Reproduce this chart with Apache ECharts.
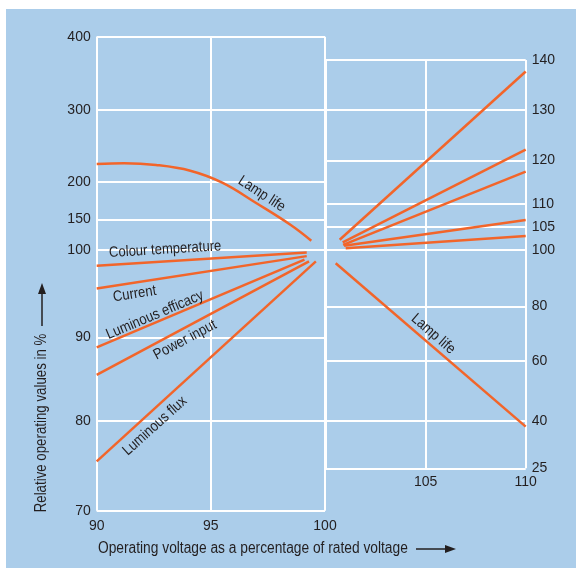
<!DOCTYPE html>
<html><head><meta charset="utf-8">
<script src="https://cdn.jsdelivr.net/npm/echarts@6/dist/echarts.min.js"></script>
<style>
html,body{margin:0;padding:0;background:#fff;}
#bg{position:absolute;left:6px;top:9px;width:570px;height:559px;background:#abcdea;}
#chart{position:absolute;left:0;top:0;width:576px;height:568px;}
</style></head><body>
<div id="bg"></div><div id="chart"></div>
<script>
// ---- data ----
const xTicksLeft = [90, 95, 100];
const xTicksRight = [105, 110];
const leftTickValues = [70, 80, 90, 100, 150, 200, 300, 400];
const rightTickValues = [25, 40, 60, 80, 100, 105, 110, 120, 130, 140];

// below rated voltage (voltage %, relative value %)
const colourTempLow = [[90, 98.2], [99.2, 99.7]];
const currentLow = [[90, 95.6], [99.2, 99.3]];
const efficacyLow = [[90, 88.8], [99.1, 98.9]];
const powerLow = [[90, 85.5], [99.3, 98.7]];
const fluxLow = [[90, 75.5], [99.6, 98.7]];
const lampLifeLow = [[90, 224.7], [91.2, 225.7], [92.6, 223.3], [94.1, 215.3], [95.5, 198.7], [97.0, 171.3], [98.5, 140.7], [99.4, 115.1]];

// above rated voltage
const fluxHigh = [[100.7, 102.2], [110, 137.7]];
const powerHigh = [[100.85, 101.65], [110, 122.1]];
const efficacyHigh = [[100.87, 101.1], [110, 117.4]];
const currentHigh = [[100.92, 100.9], [110, 106.5]];
const colourTempHigh = [[101.0, 100.4], [110, 103.0]];
const lampLifeHigh = [[100.5, 95.3], [110, 38.2]];

// curve labels (anchor in data coordinates, text angle)
const labelsLow = [
  {name: 'Colour temperature', at: [93.0, 100.8], angle: 3.5},
  {name: 'Current', at: [91.66, 94.96], angle: 9},
  {name: 'Luminous efficacy', at: [92.55, 92.55], angle: 23},
  {name: 'Power input', at: [93.87, 89.68], angle: 28},
  {name: 'Luminous flux', at: [92.55, 79.44], angle: 42},
  {name: 'Lamp life', at: [97.23, 183.6], angle: -33}
];
const labelsHigh = [
  {name: 'Lamp life', at: [105.37, 69.9], angle: -41}
];

// ---- non-linear value scales (relative spacing of the ticks on each axis) ----
const leftScalePos = [0, 89.7, 173.4, 260.7, 291.4, 329, 400.7, 474];
const rightScalePos = [0, 47.3, 107.3, 162, 218.3, 241.6, 264.3, 308, 358.3, 408.3];

function toPos(v, vals, pos) {
  for (let i = 0; i < vals.length - 1; i++) {
    if (v <= vals[i + 1] || i === vals.length - 2) {
      const t = (v - vals[i]) / (vals[i + 1] - vals[i]);
      return pos[i] + t * (pos[i + 1] - pos[i]);
    }
  }
}
function fromPos(p, vals, pos) {
  let best = 0;
  for (let i = 0; i < pos.length; i++) if (Math.abs(pos[i] - p) < Math.abs(pos[best] - p)) best = i;
  return String(vals[best]);
}
const toL = v => toPos(v, leftTickValues, leftScalePos);
const toR = v => toPos(v, rightTickValues, rightScalePos);
const L = d => d.map(([x, y]) => [x, toL(y)]);
const R = d => d.map(([x, y]) => [x, toR(y)]);

const ORANGE = '#f2652a';
const TXT = '#231f20';
const FONT = '"Liberation Sans", Arial, sans-serif';
const grid = {color: '#ffffff', width: 2};
const SQ = 0.87; // horizontal squeeze to mimic condensed type

function lineSeries(data, xi, smooth) {
  return {type: 'line', xAxisIndex: xi, yAxisIndex: xi, data: data, symbol: 'none', smooth: smooth ? 0.4 : false,
    lineStyle: {color: ORANGE, width: 2.5}, silent: true, z: 3};
}
const axisLabelStyle = {color: TXT, fontSize: 14, fontFamily: FONT};

const chart = echarts.init(document.getElementById('chart'), null, {renderer: 'canvas'});
chart.setOption({
  animation: false,
  backgroundColor: 'transparent',
  grid: [
    {left: 96.7, top: 36.7, width: 228.3, height: 474, containLabel: false, outerBoundsMode: 'none'},
    {left: 325.7, top: 60, width: 200, height: 408.3, containLabel: false, outerBoundsMode: 'none'}
  ],
  xAxis: [
    {gridIndex: 0, type: 'value', min: 90, max: 100, interval: 5,
      axisLine: {show: false}, axisTick: {show: false},
      axisLabel: Object.assign({margin: 8, customValues: xTicksLeft}, axisLabelStyle),
      splitLine: {show: true, lineStyle: grid}},
    {gridIndex: 1, type: 'value', min: 100, max: 110, interval: 5,
      axisLine: {show: false}, axisTick: {show: false},
      axisLabel: Object.assign({margin: 7, customValues: xTicksRight}, axisLabelStyle),
      splitLine: {show: true, lineStyle: grid}}
  ],
  yAxis: [
    {gridIndex: 0, type: 'value', min: 0, max: leftScalePos[leftScalePos.length - 1],
      axisLine: {show: false}, axisTick: {show: false, customValues: leftScalePos},
      axisLabel: Object.assign({customValues: leftScalePos, margin: 6,
        formatter: v => fromPos(v, leftTickValues, leftScalePos)}, axisLabelStyle),
      splitLine: {show: true, lineStyle: grid}},
    {gridIndex: 1, type: 'value', position: 'right', min: 0, max: rightScalePos[rightScalePos.length - 1],
      axisLine: {show: false}, axisTick: {show: false, customValues: rightScalePos},
      axisLabel: Object.assign({customValues: rightScalePos, margin: 6,
        formatter: v => fromPos(v, rightTickValues, rightScalePos)}, axisLabelStyle),
      splitLine: {show: true, lineStyle: grid}}
  ],
  series: [
    lineSeries(L(colourTempLow), 0), lineSeries(L(currentLow), 0), lineSeries(L(efficacyLow), 0),
    lineSeries(L(powerLow), 0), lineSeries(L(fluxLow), 0), lineSeries(L(lampLifeLow), 0, true),
    lineSeries(R(fluxHigh), 1), lineSeries(R(powerHigh), 1), lineSeries(R(efficacyHigh), 1),
    lineSeries(R(currentHigh), 1), lineSeries(R(colourTempHigh), 1), lineSeries(R(lampLifeHigh), 1)
  ]
});

// curve labels placed through the axes' own conversion
function curveLabel(l, gi, conv) {
  const p = chart.convertToPixel({xAxisIndex: gi, yAxisIndex: gi}, [l.at[0], conv(l.at[1])]);
  return {type: 'text', x: p[0], y: p[1], rotation: l.angle * Math.PI / 180, scaleX: SQ, z: 10,
    style: {text: l.name, fill: TXT, font: '15px ' + FONT, align: 'center', verticalAlign: 'middle'}};
}
const graphics = [
  {type: 'text', x: 42, y: 423, rotation: Math.PI / 2, scaleX: 0.83,
    style: {text: 'Relative operating values in %', fill: TXT, font: '16px ' + FONT, align: 'center', verticalAlign: 'middle'}},
  {type: 'line', shape: {x1: 42, y1: 326, x2: 42, y2: 292}, style: {stroke: TXT, lineWidth: 1.5}},
  {type: 'polygon', shape: {points: [[42, 283], [38, 294], [46, 294]]}, style: {fill: TXT}},
  {type: 'text', x: 98, y: 549, scaleX: 0.86,
    style: {text: 'Operating voltage as a percentage of rated voltage', fill: TXT, font: '16px ' + FONT, align: 'left', verticalAlign: 'middle'}},
  {type: 'line', shape: {x1: 416, y1: 549, x2: 446, y2: 549}, style: {stroke: TXT, lineWidth: 1.5}},
  {type: 'polygon', shape: {points: [[456, 549], [445, 545], [445, 553]]}, style: {fill: TXT}}
];
labelsLow.forEach(l => graphics.push(curveLabel(l, 0, toL)));
labelsHigh.forEach(l => graphics.push(curveLabel(l, 1, toR)));
chart.setOption({graphic: graphics});
</script>
</body></html>
